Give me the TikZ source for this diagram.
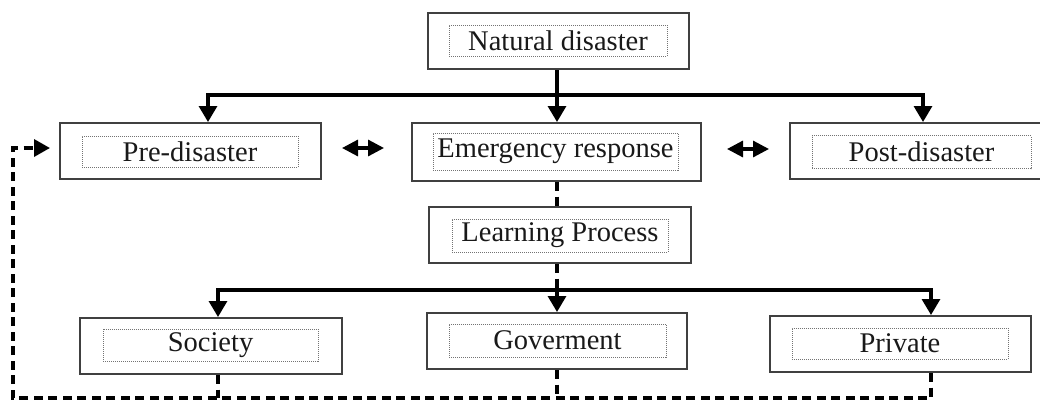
\documentclass[tikz,border=0pt]{standalone}
\usepackage{fontspec}
\setmainfont{Liberation Serif}
\usetikzlibrary{arrows.meta}
\begin{document}
\begin{tikzpicture}[x=1pt,y=-1pt,
  outerbox/.style={draw=black!75, line width=2pt, minimum height=56pt, inner sep=0pt},
  innerbox/.style={draw=black!55, densely dotted, line width=1pt, inner sep=0pt,
    font=\fontsize{28.5}{32}\selectfont, text=black!90},
  conn/.style={line width=3.2pt, black},
  arr/.style={conn, -{Triangle[length=16pt,width=18pt]}},
  dashline/.style={conn, line width=3.4pt, dash pattern=on 9pt off 5.5pt},
  dbl/.style={conn, {Triangle[length=16pt,width=16pt]}-{Triangle[length=16pt,width=16pt]}}
]
\useasboundingbox (0,0) rectangle (1040,402);
\clip (0,0) rectangle (1040,402);
\fill[white] (0,0) rectangle (1040,402);

% boxes
\node[outerbox, minimum width=261pt] (nd) at (558.5,41) {};
\node[innerbox, minimum width=218pt, minimum height=31pt] (ndt) at (558,40.5) {Natural disaster};

\node[outerbox, minimum width=261pt] (pre) at (190.5,151) {};
\node[innerbox, minimum width=216pt, minimum height=31pt] (pret) at (190,151.5) {Pre-disaster};

\node[outerbox, minimum width=289pt, minimum height=58pt] (em) at (556.5,152) {};
\node[innerbox, minimum width=245pt, minimum height=37pt] (emt) at (555.5,151.5) {Emergency response};

\node[outerbox, minimum width=263pt] (post) at (921.5,151) {};
\node[innerbox, minimum width=219pt, minimum height=33pt] (postt) at (921.5,152) {Post-disaster};

\node[outerbox, minimum width=262pt] (lp) at (560,235) {};
\node[innerbox, minimum width=216pt, minimum height=33pt] (lpt) at (560,235.5) {Learning Process};

\node[outerbox, minimum width=262pt] (soc) at (211,346) {};
\node[innerbox, minimum width=215pt, minimum height=32pt] (soct) at (210.5,345) {Society};

\node[outerbox, minimum width=260pt] (gov) at (557,341) {};
\node[innerbox, minimum width=217pt, minimum height=33pt] (govt) at (557.5,340.5) {Goverment};

\node[outerbox, minimum width=261pt] (pri) at (900.5,344) {};
\node[innerbox, minimum width=216pt, minimum height=31pt] (prit) at (900,343.5) {Private};

% top distribution
\coordinate (t0) at (557,95);
\coordinate (tl) at (208,95);
\coordinate (tr) at (923,95);
\draw[conn] (t0 |- nd.south) -- (t0);
\draw[conn, line cap=rect] (tl) -- (tr);
\draw[arr] (tl) -- (tl |- pre.north);
\draw[arr] (t0) -- (t0 |- em.north);
\draw[arr] (tr) -- (tr |- post.north);

% double arrows
\coordinate (d1a) at (342,148);
\coordinate (d1b) at (384,148);
\coordinate (d2a) at (727,149);
\coordinate (d2b) at (769,149);
\draw[dbl] (d1a) -- (d1b);
\draw[dbl] (d2a) -- (d2b);

% learning process links
\coordinate (b0) at (557,290);
\coordinate (bl) at (218,290);
\coordinate (br) at (931,290);
\draw[dashline] (t0 |- em.south) -- (t0 |- lp.north);
\draw[dashline] (t0 |- lp.south) -- (b0);
\draw[conn, line cap=rect] (bl) -- (br);
\draw[arr] (bl) -- (bl |- soc.north);
\draw[arr] (b0) -- (b0 |- gov.north);
\draw[arr] (br) -- (br |- pri.north);

% feedback loop
\coordinate (qr) at (931,398);
\coordinate (ql) at (13,398);
\coordinate (qt) at (13,148);
\coordinate (qp) at (60,148);
\draw[dashline] (bl |- soc.south) -- (bl |- qr);
\draw[dashline] (b0 |- gov.south) -- (b0 |- qr);
\draw[dashline, -{Triangle[length=16pt,width=17pt]}, shorten >=10pt]
  (br |- pri.south) -- (qr) -- (ql) -- (qt) -- (qp);
\end{tikzpicture}
\end{document}
